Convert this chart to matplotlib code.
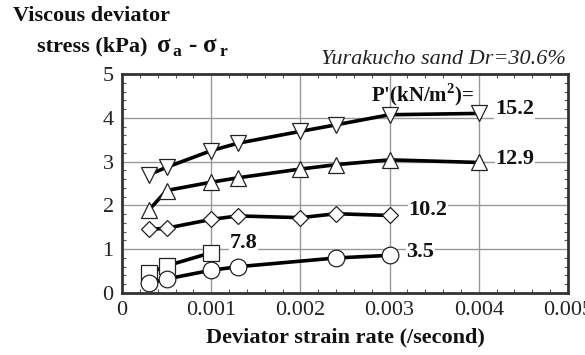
import numpy as np
import matplotlib
matplotlib.use('Agg')
import matplotlib.pyplot as plt
from matplotlib.ticker import MultipleLocator

# %% Data:

rate_152 = [0.0003, 0.0005, 0.001, 0.0013, 0.002, 0.0024, 0.003, 0.004]
stress_152 = [2.70, 2.87, 3.25, 3.42, 3.69, 3.84, 4.07, 4.10]

rate_129 = [0.0003, 0.0005, 0.001, 0.0013, 0.002, 0.0024, 0.003, 0.004]
stress_129 = [1.89, 2.34, 2.53, 2.63, 2.83, 2.93, 3.04, 2.98]

rate_102 = [0.0003, 0.0005, 0.001, 0.0013, 0.002, 0.0024, 0.003]
stress_102 = [1.45, 1.48, 1.68, 1.76, 1.72, 1.81, 1.77]

rate_78 = [0.0003, 0.0005, 0.001]
stress_78 = [0.45, 0.62, 0.92]

rate_35 = [0.0003, 0.0005, 0.001, 0.0013, 0.0024, 0.003]
stress_35 = [0.22, 0.32, 0.52, 0.60, 0.80, 0.86]

x_ticks = [0, 0.001, 0.002, 0.003, 0.004, 0.005]
x_tick_labels = ['0', '0.001', '0.002', '0.003', '0.004', '0.005']
y_ticks = [0, 1, 2, 3, 4, 5]

# %% Plot:

plt.rcParams['font.family'] = ['Liberation Serif', 'DejaVu Serif']
plt.rcParams['mathtext.fontset'] = 'custom'
plt.rcParams['mathtext.rm'] = 'Liberation Serif'
plt.rcParams['mathtext.bf'] = 'Liberation Serif:bold'

fig = plt.figure(figsize=(5.85, 3.55), dpi=100)
ax = fig.add_axes([122/585, 1 - 293/355, 446/585, 219/355])

series = [
    (rate_152, stress_152, 'v'),
    (rate_129, stress_129, '^'),
    (rate_102, stress_102, 'D'),
    (rate_78, stress_78, 's'),
    (rate_35, stress_35, 'o'),
]
sizes = {'v': 12, '^': 12, 'D': 8, 's': 11, 'o': 12}
for x, y, m in series:
    ax.plot(x, y, color='black', lw=2.6, marker=m, ms=sizes[m],
            mfc='white', mec='#222222', mew=0.9, zorder=3)

ax.set_xlim(0, 0.005)
ax.set_ylim(0, 5)
ax.set_xticks(x_ticks)
ax.set_xticklabels(x_tick_labels)
ax.set_yticks(y_ticks)
ax.xaxis.set_minor_locator(MultipleLocator(0.0002))
ax.yaxis.set_minor_locator(MultipleLocator(0.2))
ax.tick_params(which='both', direction='in', top=True, right=True,
               labelsize=16, color='#555555', labelcolor='#222222')
ax.tick_params(which='major', length=0, pad=6)
ax.tick_params(which='minor', length=3, width=0.8)
ax.grid(True, which='major', color='#999999', lw=1.0)
for sp in ax.spines.values():
    sp.set_linewidth(2.0)
    sp.set_color('#333333')

ax.set_xlabel('Deviator strain rate (/second)', fontsize=16,
              fontweight='bold', labelpad=5, color='#111111')

# curve labels
lab = dict(fontsize=16, fontweight='bold', va='center', color='#111111',
           bbox=dict(fc='white', ec='none', pad=0.5))
ax.text(0.00321, 1.89, '10.2', **lab)
ax.text(0.00319, 0.93, '3.5', **lab)
ax.text(0.00121, 1.14, '7.8', **lab)
ax.text(0.00418, 4.20, '15.2', **lab)
ax.text(0.00419, 3.05, '12.9', **lab)
ax.text(0.00337, 4.52, "P'(kN/m$^\\mathbf{2}$)=", fontsize=15,
        fontweight='bold', ha='center', va='center', color='#111111')

fig.text(566/585, 1 - 60/355, 'Yurakucho sand Dr=30.6%', fontsize=16,
         style='italic', color='#222222', ha='right', va='center')
fig.text(13/585, 1 - 16/355, 'Viscous deviator', fontsize=16,
         fontweight='bold', ha='left', va='center', color='#111111')
fig.text(37/585, 1 - 46/355, 'stress (kPa)', fontsize=16,
         fontweight='bold', ha='left', va='center', color='#111111')
fig.text(156/585, 1 - 47/355,
         '$\\mathbf{\\sigma}_{\\,\\mathbf{a}}$ - '
         '$\\mathbf{\\sigma}_{\\,\\mathbf{r}}$',
         fontsize=18, fontweight='bold', ha='left', va='center',
         color='#111111')

fig.savefig('out.png', dpi=100)
